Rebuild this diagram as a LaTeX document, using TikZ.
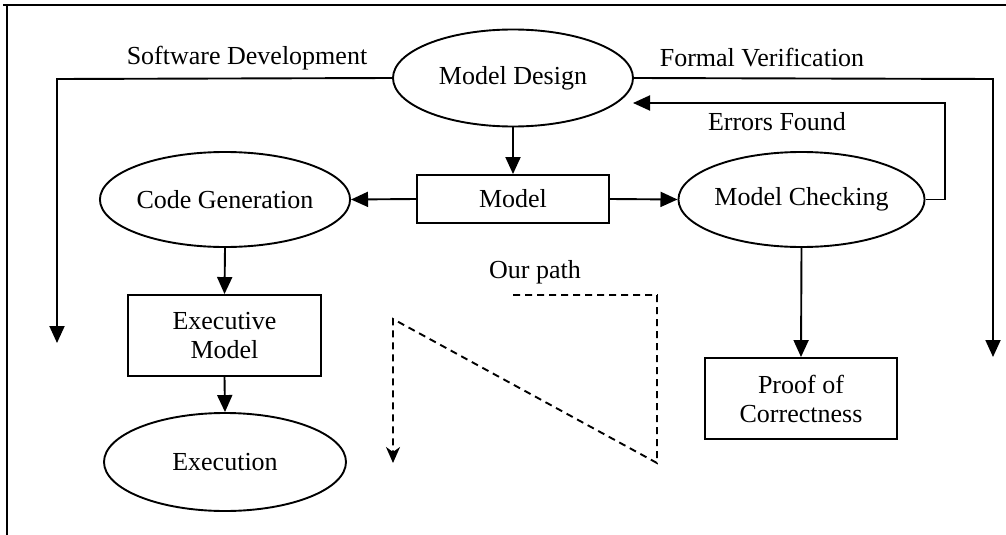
\documentclass[tikz,border=0pt]{standalone}
\usepackage{fontspec}
\setmainfont{Liberation Serif}
\usetikzlibrary{shapes.geometric,arrows.meta}
\begin{document}
\begin{tikzpicture}[x=1pt,y=-1pt,
  every node/.style={font=\fontsize{26}{29}\selectfont},
  ell/.style={draw,ellipse,line width=1.9pt,inner sep=0pt},
  boxn/.style={draw,rectangle,line width=1.9pt,inner sep=0pt,align=center},
  lbl/.style={inner sep=0pt},
  conn/.style={line width=1.9pt,-{Triangle[length=17pt,width=15pt]}},
  dpath/.style={line width=1.9pt,dash pattern=on 7pt off 5pt,-{Stealth[length=16pt,width=14pt,inset=5pt]}}]
\useasboundingbox (0,0) rectangle (1006,535);
% frame
\draw[line width=1.9pt] (3,5) -- (1006,5);
\draw[line width=1.9pt] (7,5) -- (7,535);
% nodes
\node[ell,minimum width=240pt,minimum height=97pt] (md) at (513,78) {Model Design};
\node[boxn,minimum width=192pt,minimum height=48pt] (model) at (513,199) {Model};
\node[ell,minimum width=242pt,minimum height=95pt] (cg) at (225,199.5) {Code Generation};
\node[ell,minimum width=241pt,minimum height=95pt] (mc) at (801.5,199.5) {Model Checking};
\node[boxn,minimum width=193pt,minimum height=81pt] (em) at (224.5,335.5) {Executive\\Model};
\node[ell,minimum width=242pt,minimum height=98pt] (ex) at (225,462) {Execution};
\node[boxn,minimum width=192pt,minimum height=81pt] (pc) at (801,398.5) {Proof of\\Correctness};
% labels
\node[lbl] (sd) at (247,58) {Software Development};
\node[lbl] (fv) at (762,58) {Formal Verification};
\node[lbl] (ef) at (777,122) {Errors Found};
\node[lbl] (op) at (535,272) {Our path};
% coordinates
\coordinate (sdc) at (57,79);
\coordinate (sdt) at (57,343);
\coordinate (fvc) at (993,79);
\coordinate (fvt) at (993,357);
\coordinate (e1) at (945,199.5);
\coordinate (e2) at (945,103);
\coordinate (e3) at (633,103);
\coordinate (p1) at (513,295);
\coordinate (p2) at (657,295);
\coordinate (p3) at (657,463);
\coordinate (p4) at (393,319);
\coordinate (p5) at (393,463);
% connectors
\draw[conn] (md.south) -- (model.north);
\draw[conn] (model.west) -- (cg.east);
\draw[conn] (model.east) -- (mc.west);
\draw[conn] (cg.south) -- (em.north);
\draw[conn] (em.south) -- (ex.north);
\draw[conn] (mc.south) -- (pc.north);
\draw[conn] (md.west) -- (sdc) -- (sdt);
\draw[conn] (md.east) -- (fvc) -- (fvt);
\draw[conn] (mc.east) -- (e1) -- (e2) -- (e3);
\draw[dpath] (p1) -- (p2) -- (p3) -- (p4) -- (p5);
\end{tikzpicture}
\end{document}
